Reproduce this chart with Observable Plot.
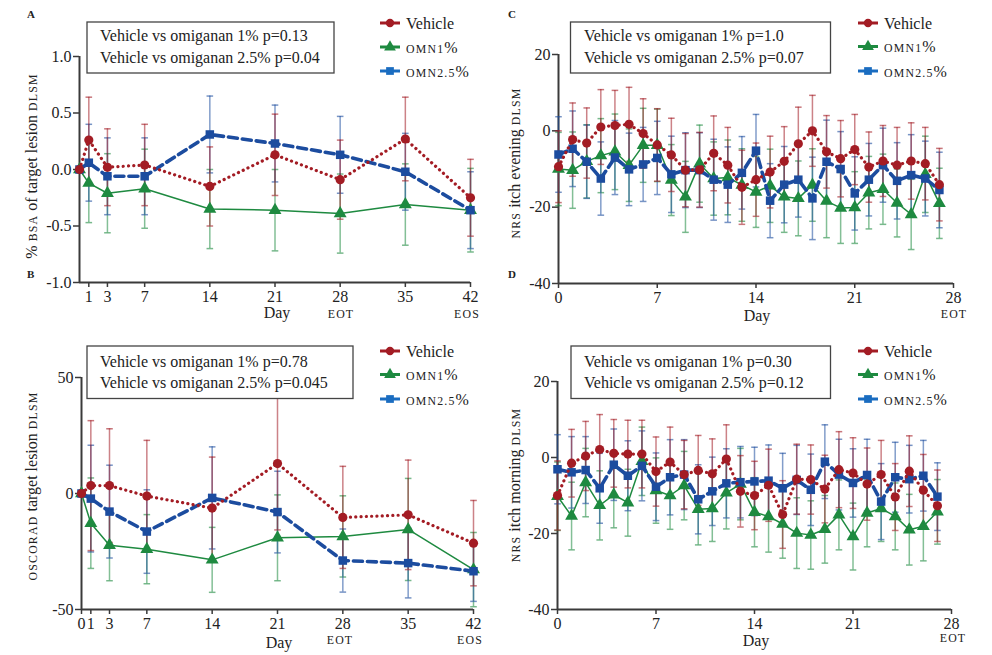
<!DOCTYPE html>
<html><head><meta charset="utf-8">
<script src="https://cdn.jsdelivr.net/npm/d3@7"></script>
<script src="https://cdn.jsdelivr.net/npm/@observablehq/plot@0.6"></script>
<style>
html,body{margin:0;padding:0;background:#fff;}
#root{position:relative;width:992px;height:655px;overflow:hidden;}
.panel{position:absolute;}
</style></head>
<body><div id="root"></div>
<script>
// ---------- Data ----------
const seriesNames = ["Vehicle", "OMN1%", "OMN2.5%"];
const daysAB = [0, 1, 3, 7, 14, 21, 28, 35, 42];
const daysCD = [0,1,2,3,4,5,6,7,8,9,10,11,12,13,14,15,16,17,18,19,20,21,22,23,24,25,26,27];

// Panel A: % BSA of target lesion DLSM
const bsaVehicle    = [0, 0.26, 0.02, 0.04, -0.15, 0.13, -0.09, 0.27, -0.25];
const bsaVehicleErr = [0, 0.38, 0.34, 0.36, 0.35, 0.36, 0.35, 0.37, 0.34];
const bsaOmn1       = [0, -0.12, -0.21, -0.17, -0.35, -0.36, -0.39, -0.31, -0.36];
const bsaOmn1Err    = [0, 0.35, 0.35, 0.35, 0.35, 0.36, 0.35, 0.36, 0.37];
const bsaOmn25      = [0, 0.06, -0.06, -0.06, 0.31, 0.23, 0.13, -0.02, -0.36];
const bsaOmn25Err   = [0, 0.34, 0.34, 0.34, 0.34, 0.34, 0.34, 0.34, 0.34];

// Panel B: oSCORAD target lesion DLSM
const scoVehicle    = [0, 3.4, 3.4, -1.1, -6.3, 12.9, -10.3, -9.2, -21.4];
const scoVehicleErr = [0, 28, 24.5, 24, 22, 28.6, 22, 23.6, 18.4];
const scoOmn1       = [0, -12.8, -22.3, -24.0, -28.6, -19.1, -18.5, -15.5, -32.8];
const scoOmn1Err    = [0, 19.5, 15.3, 14.9, 14, 18.5, 17.5, 22, 16];
const scoOmn25      = [0, -2.2, -7.8, -16.4, -1.9, -8.0, -28.9, -30.0, -33.5];
const scoOmn25Err   = [0, 23, 20, 18, 22, 17.6, 13.6, 15, 13];

// Panel C: NRS itch evening DLSM
const eveVehicle    = [-9.4,-2.3,-3.2,1.0,1.4,1.7,-0.7,-3.7,-6.3,-10.3,-10.2,-5.9,-9.0,-14.8,-12.8,-10.8,-8.0,-3.4,0.0,-5.5,-7.3,-4.9,-9.5,-7.9,-9.0,-7.9,-8.6,-14.1];
const eveVehicleErr = [9.4,9.6,9.2,9.8,9.2,9.7,9.1,9.5,9.6,9.6,9.8,9.8,9.9,9.7,9.6,9.4,9.1,9.6,9.3,9.5,10.0,9.2,9.2,9.3,9.9,10.0,9.5,9.5];
const eveOmn1       = [-10.0,-10.3,-8.0,-6.5,-5.5,-9.0,-3.8,-3.8,-12.9,-17.3,-8.6,-12.5,-12.2,-14.2,-16.0,-14.4,-17.3,-17.7,-14.2,-18.4,-20.2,-20.1,-16.2,-15.3,-18.9,-21.9,-11.4,-19.0];
const eveOmn1Err    = [9.6,10.0,9.6,9.7,9.9,9.5,9.7,9.5,9.3,9.3,10.1,9.6,9.8,9.5,9.3,9.6,9.3,9.8,9.5,9.6,9.3,9.4,9.5,9.2,8.9,9.2,10.0,9.2];
const eveOmn25      = [-6.2,-4.7,-8.1,-12.5,-7.0,-10.1,-8.8,-7.1,-11.4,-10.3,-10.3,-12.8,-14.1,-11.0,-5.2,-18.3,-14.1,-12.8,-17.7,-8.1,-10.0,-16.4,-12.8,-9.0,-13.1,-11.6,-12.5,-15.5];
const eveOmn25Err   = [9.9,9.9,9.6,9.6,9.7,9.5,9.7,9.6,10.0,9.8,9.8,10.6,9.9,9.5,9.5,9.7,10.0,9.8,10.8,10.9,9.8,9.6,9.5,9.7,10.0,10.6,9.8,9.9];

// Panel D: NRS itch morning DLSM
const morVehicle    = [-10.0,-1.5,0.4,2.1,1.1,0.9,0.9,-3.7,-1.2,-4.5,-3.4,-4.3,-0.4,-8.9,-10.0,-7.3,-15.0,-5.7,-5.8,-8.3,-3.2,-4.1,-7.0,-4.5,-10.4,-3.6,-8.6,-12.7];
const morVehicleErr = [9.1,8.9,9.1,9.2,8.9,8.9,8.9,9.1,9.2,9.0,9.2,9.2,9.0,9.4,9.0,9.5,8.9,9.2,9.1,8.9,10.0,9.3,9.5,9.0,8.8,9.3,9.4,9.4];
const morOmn1       = [-10.2,-15.4,-6.6,-12.6,-9.8,-11.9,-1.0,-8.7,-10.0,-7.4,-13.6,-13.4,-9.3,-7.0,-14.4,-15.5,-17.5,-19.9,-20.4,-18.9,-15.1,-20.8,-14.6,-13.4,-15.5,-19.0,-18.1,-14.3];
const morOmn1Err    = [9.0,8.9,9.0,9.1,8.7,8.8,9.0,8.6,8.9,9.0,9.4,8.7,9.5,9.4,9.1,9.4,9.0,9.3,9.0,8.9,9.2,8.8,8.9,8.7,8.8,9.3,9.1,8.5];
const morOmn25      = [-3.1,-3.9,-3.3,-8.1,-1.9,-4.8,-2.2,-7.7,-5.2,-4.5,-11.0,-8.9,-6.8,-6.5,-6.3,-6.1,-8.1,-5.9,-8.5,-1.1,-4.5,-6.7,-4.6,-11.6,-5.2,-5.7,-4.8,-10.3];
const morOmn25Err   = [9.1,9.4,8.8,9.2,9.4,9.2,9.2,8.9,9.9,9.2,9.1,9.0,9.1,9.4,9.0,9.4,9.2,9.1,9.4,9.7,9.3,9.0,9.4,10.0,9.2,8.9,9.3,8.9];

// ---------- Styling ----------
const SERIF = '"Liberation Serif", "DejaVu Serif", serif';
const colors = {"Vehicle": "#a31c24", "OMN1%": "#1e8a40", "OMN2.5%": "#1c4c9f"};
const legendColors = {"Vehicle": "#a31c24", "OMN1%": "#1e8a40", "OMN2.5%": "#1a6cc0"};
const symbols = {"Vehicle": "circle", "OMN1%": "triangle", "OMN2.5%": "square"};
const lineStyle = {
  "Vehicle": {strokeWidth: 3.2, strokeDasharray: "0.1 5.2", strokeLinecap: "round"},
  "OMN1%": {strokeWidth: 1.5},
  "OMN2.5%": {strokeWidth: 3.6, strokeDasharray: "9 5"}
};
const capSymbol = {draw(ctx, size) { const r = Math.sqrt(size / Math.PI); ctx.moveTo(-r, 0); ctx.lineTo(r, 0); }};

function rows(days, v, e) { return days.map((d, i) => ({day: d, v: v[i], e: e[i]})); }

function seriesMarks(name, data) {
  const c = colors[name];
  const eb = data.filter(d => d.e > 0);
  return [
    Plot.ruleX(eb, {x: "day", y1: d => d.v - d.e, y2: d => d.v + d.e, stroke: c, strokeOpacity: 0.55, strokeWidth: 1.5}),
    Plot.dot(eb, {x: "day", y: d => d.v + d.e, symbol: capSymbol, r: 3.3, stroke: c, strokeOpacity: 0.6, strokeWidth: 1.5, fill: "none"}),
    Plot.dot(eb, {x: "day", y: d => d.v - d.e, symbol: capSymbol, r: 3.3, stroke: c, strokeOpacity: 0.6, strokeWidth: 1.5, fill: "none"})
  ];
}
function seriesLine(name, data) {
  const c = colors[name];
  return [
    Plot.line(data, {x: "day", y: "v", stroke: c, ...lineStyle[name]}),
    Plot.dot(data, {x: "day", y: "v", symbol: symbols[name], r: name === "Vehicle" ? 4.6 : 4.8, fill: c, stroke: "none"})
  ];
}

function smallCapsText(sel, parts) {
  parts.forEach(([t, sc]) => {
    const ts = sel.append("tspan").text(t);
    if (sc) ts.attr("font-size", "0.74em").attr("letter-spacing", "1.2px");
  });
}

function makePanel(cfg) {
  const data = {
    "Vehicle": rows(cfg.days, cfg.vals[0], cfg.errs[0]),
    "OMN1%": rows(cfg.days, cfg.vals[1], cfg.errs[1]),
    "OMN2.5%": rows(cfg.days, cfg.vals[2], cfg.errs[2])
  };
  const [x0, x1] = cfg.xDomain, [y0, y1] = cfg.yDomain;
  const svg = Plot.plot({
    width: 496, height: cfg.height,
    marginLeft: cfg.m[0], marginRight: cfg.m[1], marginTop: cfg.m[2], marginBottom: cfg.m[3],
    style: {fontFamily: SERIF, fontSize: "16px", color: "#2a2a2a", background: "transparent", overflow: "visible"},
    x: {domain: cfg.xDomain},
    y: {domain: cfg.yDomain},
    marks: [
      Plot.ruleX([x0], {y1: y0, y2: y1, stroke: "#3a3a3a", strokeWidth: 2}),
      Plot.ruleY([y0], {x1: x0, x2: x1, stroke: "#3a3a3a", strokeWidth: 2}),
      Plot.axisX({ticks: cfg.xTicks, tickSize: 5, tickPadding: 3, label: null, stroke: "#3a3a3a", strokeWidth: 1.5, fill: "#222", fontSize: 16}),
      Plot.axisY({ticks: cfg.yTicks, tickFormat: cfg.yFormat, tickSize: 6, tickPadding: 2, label: null, stroke: "#3a3a3a", strokeWidth: 1.5, fill: "#222", fontSize: 16}),
      ...seriesMarks("OMN1%", data["OMN1%"]),
      ...seriesMarks("OMN2.5%", data["OMN2.5%"]),
      ...seriesMarks("Vehicle", data["Vehicle"]),
      ...seriesLine("OMN1%", data["OMN1%"]),
      ...seriesLine("OMN2.5%", data["OMN2.5%"]),
      ...seriesLine("Vehicle", data["Vehicle"])
    ]
  });
  const s = d3.select(svg);
  const a = cfg.ann;
  // p-value box
  s.append("rect").attr("x", a.box[0]).attr("y", a.box[1]).attr("width", a.box[2] - a.box[0]).attr("height", a.box[3] - a.box[1])
    .attr("fill", "#fff").attr("stroke", "#444").attr("stroke-width", 1.3);
  cfg.pText.forEach((t, i) => {
    s.append("text").attr("x", a.boxText[0]).attr("y", a.boxText[1 + i]).attr("text-anchor", "start")
      .attr("font-size", 16).attr("fill", "#222").text(t);
  });
  // legend
  seriesNames.forEach((name, i) => {
    const y = a.leg[1 + i], lx = a.leg[0];
    const c = legendColors[name];
    s.append("line").attr("x1", lx).attr("x2", lx + 20).attr("y1", y).attr("y2", y).attr("stroke", c).attr("stroke-width", 3);
    const sym = d3.symbol().type(name === "Vehicle" ? d3.symbolCircle : name === "OMN1%" ? d3.symbolTriangle : d3.symbolSquare)
      .size(name === "Vehicle" ? 55 : 60);
    s.append("path").attr("d", sym()).attr("transform", `translate(${lx + 10},${y})`).attr("fill", c);
    const t = s.append("text").attr("x", lx + 26).attr("y", y).attr("dy", "0.35em").attr("text-anchor", "start")
      .attr("font-size", 16).attr("fill", "#222");
    if (name === "Vehicle") t.text("Vehicle");
    else smallCapsText(t, [[name.replace("%", ""), true], ["%", false]]);
  });
  // y-axis title
  const yt = s.append("text").attr("transform", `translate(${a.yTitle[0]},${a.yTitle[1]}) rotate(-90)`)
    .attr("text-anchor", "middle").attr("font-size", 16).attr("fill", "#222");
  smallCapsText(yt, cfg.yTitle);
  // x-axis title and EOT/EOS
  s.append("text").attr("x", a.day[0]).attr("y", a.day[1]).attr("text-anchor", "middle").attr("font-size", 16).attr("fill", "#222").text("Day");
  cfg.xNotes.forEach(([txt, day]) => {
    const tx = s.append("text").attr("x", cfg.xNoteX[day]).attr("y", a.note).attr("text-anchor", "middle").attr("font-size", 16).attr("fill", "#222");
    smallCapsText(tx, [[txt, true]]);
  });
  // panel letters
  (a.letters || []).forEach(([L, x, y]) => {
    s.append("text").attr("x", x).attr("y", y).attr("text-anchor", "start").attr("font-size", 11).attr("font-weight", "bold").attr("fill", "#222").text(L);
  });
  return svg;
}

const panels = [
  {left: 0, top: 0, height: 330, m: [79, 26, 56, 48], days: daysAB, xDomain: [0, 42], yDomain: [-1, 1],
   xTicks: [1, 3, 7, 14, 21, 28, 35, 42], yTicks: [-1, -0.5, 0, 0.5, 1], yFormat: d => d.toFixed(1),
   vals: [bsaVehicle, bsaOmn1, bsaOmn25], errs: [bsaVehicleErr, bsaOmn1Err, bsaOmn25Err],
   pText: ["Vehicle vs omiganan 1% p=0.13", "Vehicle vs omiganan 2.5% p=0.04"],
   yTitle: [["% ", false], ["BSA", true], [" of target lesion ", false], ["DLSM", true]],
   xNotes: [["EOT", 28], ["EOS", 42]], xNoteX: {28: 341, 42: 467},
   ann: {box: [87, 22, 334, 73], boxText: [100, 41, 62.5], leg: [380, 23, 47, 71], yTitle: [37, 166], day: [277, 318], note: 318,
         letters: [["A", 27, 18], ["B", 27, 278]]}},
  {left: 0, top: 330, height: 325, m: [81, 23, 47, 46], days: daysAB, xDomain: [0, 42], yDomain: [-50, 50],
   xTicks: [0, 1, 3, 7, 14, 21, 28, 35, 42], yTicks: [-50, 0, 50], yFormat: d => String(d),
   vals: [scoVehicle, scoOmn1, scoOmn25], errs: [scoVehicleErr, scoOmn1Err, scoOmn25Err],
   pText: ["Vehicle vs omiganan 1% p=0.78", "Vehicle vs omiganan 2.5% p=0.045"],
   yTitle: [["OSCORAD", true], [" target lesion ", false], ["DLSM", true]],
   xNotes: [["EOT", 28], ["EOS", 42]], xNoteX: {28: 340, 42: 470},
   ann: {box: [87, 16, 353, 68.5], boxText: [100, 37, 58], leg: [380, 21, 44.5, 69], yTitle: [37, 156], day: [279, 318], note: 314}},
  {left: 496, top: 0, height: 330, m: [62, 39, 54, 47], days: daysCD, xDomain: [0, 28], yDomain: [-40, 20],
   xTicks: [0, 7, 14, 21, 28], yTicks: [-40, -20, 0, 20], yFormat: d => String(d),
   vals: [eveVehicle, eveOmn1, eveOmn25], errs: [eveVehicleErr, eveOmn1Err, eveOmn25Err],
   pText: ["Vehicle vs omiganan 1% p=1.0", "Vehicle vs omiganan 2.5% p=0.07"],
   yTitle: [["NRS", true], [" itch evening ", false], ["DLSM", true]],
   xNotes: [["EOT", 28]], xNoteX: {28: 458},
   ann: {box: [74.5, 22, 334.5, 73], boxText: [88, 41, 62.5], leg: [362, 23, 46.5, 71], yTitle: [24, 163], day: [261, 321], note: 318,
         letters: [["C", 12, 18], ["D", 12, 278]]}},
  {left: 496, top: 330, height: 325, m: [61, 41, 51, 46], days: daysCD, xDomain: [0, 28], yDomain: [-40, 20],
   xTicks: [0, 7, 14, 21, 28], yTicks: [-40, -20, 0, 20], yFormat: d => String(d),
   vals: [morVehicle, morOmn1, morOmn25], errs: [morVehicleErr, morOmn1Err, morOmn25Err],
   pText: ["Vehicle vs omiganan 1% p=0.30", "Vehicle vs omiganan 2.5% p=0.12"],
   yTitle: [["NRS", true], [" itch morning ", false], ["DLSM", true]],
   xNotes: [["EOT", 28]], xNoteX: {28: 457},
   ann: {box: [75, 16, 334.5, 68.5], boxText: [88, 37, 58], leg: [362, 21, 44.5, 69], yTitle: [24, 155], day: [260, 316], note: 312}}
];

const root = document.getElementById("root");
panels.forEach(cfg => {
  const div = document.createElement("div");
  div.className = "panel";
  div.style.left = cfg.left + "px";
  div.style.top = cfg.top + "px";
  div.appendChild(makePanel(cfg));
  root.appendChild(div);
});
</script>
</body></html>
